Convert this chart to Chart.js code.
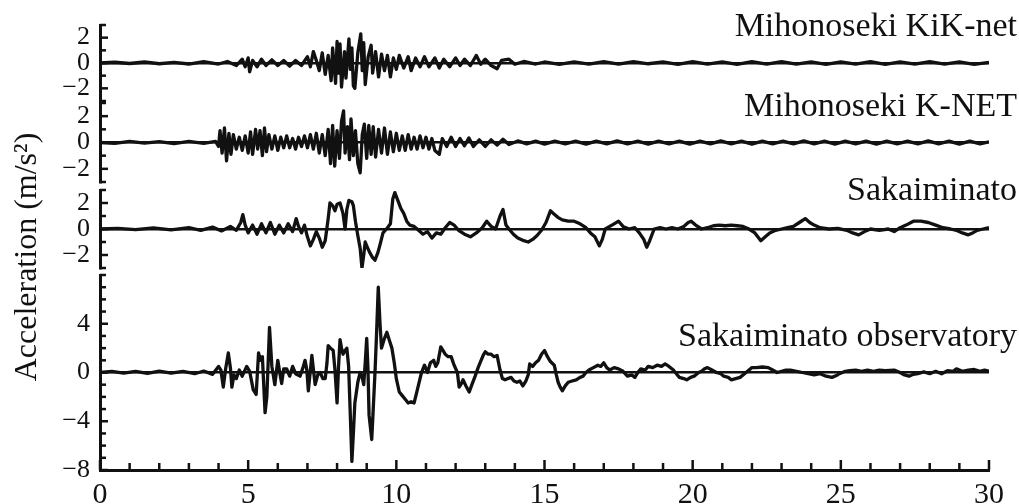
<!DOCTYPE html>
<html>
<head>
<meta charset="utf-8">
<script src="https://cdn.jsdelivr.net/npm/chart.js@4.4.1/dist/chart.umd.min.js"></script>
<style>
  body { margin: 0; background: #fff; }
  #wrap { position: relative; width: 1019px; height: 504px; overflow: hidden; }
  #wrap canvas { position: absolute; left: 0; top: 0; }
</style>
</head>
<body>
<div id="wrap">
  <canvas id="p1" width="1019" height="504"></canvas>
  <canvas id="p2" width="1019" height="504"></canvas>
  <canvas id="p3" width="1019" height="504"></canvas>
  <canvas id="p4" width="1019" height="504"></canvas>
</div>
<script>
// station names, top to bottom
const stations = ["Mihonoseki KiK-net", "Mihonoseki K-NET", "Sakaiminato", "Sakaiminato observatory"];
const yLabel = "Acceleration (m/s\u00b2)";
const timeTicks = [0, 5, 10, 15, 20, 25, 30];
const smallTickLabels = [-2, 0, 2];
const bigTickLabels = [-8, -4, 0, 4];

// [time s, acceleration m/s2]
const kikNet = [
  [0,0],[0.5,0.06],[1.0,-0.04],[1.5,0.08],[2.0,-0.06],[2.5,0.05],[3.0,-0.08],[3.5,0.1],[4.0,-0.08],[4.3,0.12],
  [4.6,-0.2],[4.8,0.3],[4.9,-0.3],[5.0,0.4],[5.05,-0.7],[5.15,0.2],[5.3,-0.3],[5.45,0.3],[5.6,-0.2],[5.8,0.25],
  [6.0,-0.2],[6.2,0.2],[6.4,-0.25],[6.6,0.2],[6.8,-0.2],[7.0,0.5],[7.1,-0.3],[7.2,0.9],[7.3,0.2],[7.4,-0.6],
  [7.5,0.8],[7.6,-0.9],[7.7,0.6],[7.8,-1.4],[7.85,1.2],[7.95,-1.6],[8.0,1.7],[8.05,-0.8],[8.1,1.5],[8.15,-1.9],
  [8.25,0.9],[8.3,-1.2],[8.4,1.9],[8.45,-0.5],[8.5,1.2],[8.55,-1.8],[8.6,-2.0],[8.7,0.8],[8.8,2.3],[8.85,-0.6],
  [8.9,1.6],[8.95,-1.7],[9.05,0.5],[9.15,1.4],[9.2,-0.8],[9.3,0.9],[9.4,-1.1],[9.5,0.7],[9.6,-0.6],[9.7,0.6],
  [9.8,-1.1],[9.9,0.4],[10.0,-0.5],[10.1,0.6],[10.25,-0.4],[10.4,0.5],[10.5,-0.6],[10.65,0.4],[10.8,-0.3],[10.95,0.5],
  [11.1,-0.3],[11.3,0.4],[11.45,-0.4],[11.6,0.3],[11.8,-0.3],[12.0,0.4],[12.15,-0.2],[12.3,0.3],[12.5,-0.2],[12.7,0.6],
  [12.85,-0.1],[13.0,0.3],[13.2,-0.2],[13.4,-0.45],[13.55,0.2],[13.8,0.3],[14.0,-0.1],[14.3,0.12],[14.7,-0.08],[15.0,0.08],
  [15.5,-0.1],[16.0,0.08],[16.5,-0.08],[17.0,0.1],[17.5,-0.08],[18.0,0.1],[18.5,-0.06],[19.0,0.08],[19.5,-0.1],[20.0,0.1],
  [20.5,-0.08],[21.0,0.08],[21.5,-0.1],[22.0,0.1],[22.5,-0.08],[23.0,0.1],[23.5,-0.08],[24.0,0.08],[24.5,-0.1],[25.0,0.08],
  [25.5,-0.08],[26.0,0.1],[26.5,-0.1],[27.0,0.08],[27.5,-0.08],[28.0,0.1],[28.5,-0.08],[29.0,0.08],[29.5,-0.1],[30.0,0.05]
];

const kNet = [
  [0,0],[0.5,-0.06],[1.0,0.08],[1.5,-0.05],[2.0,0.06],[2.5,-0.08],[3.0,0.08],[3.5,-0.06],[3.9,0.08],[4.0,-0.3],
  [4.05,0.9],[4.12,-0.8],[4.2,1.1],[4.27,-1.4],[4.35,0.7],[4.42,-0.9],[4.5,0.6],[4.6,-0.5],[4.7,0.4],[4.8,-0.6],
  [4.9,0.5],[5.0,-0.8],[5.08,0.8],[5.15,-0.9],[5.25,1.0],[5.32,-0.5],[5.4,0.9],[5.48,-1.0],[5.55,1.1],[5.62,-0.7],
  [5.7,0.6],[5.8,-0.5],[5.9,0.5],[6.0,-0.6],[6.1,0.4],[6.2,-0.4],[6.3,0.5],[6.4,-0.4],[6.5,0.3],[6.6,-0.5],
  [6.7,0.4],[6.8,-0.3],[6.9,0.5],[7.0,-0.4],[7.1,0.6],[7.2,-0.5],[7.3,0.7],[7.4,-0.8],[7.5,0.6],[7.6,-1.0],
  [7.7,1.0],[7.78,-1.6],[7.85,1.3],[7.92,-1.8],[8.0,0.9],[8.08,-1.2],[8.15,1.6],[8.22,2.4],[8.27,-0.8],[8.35,1.2],
  [8.42,-1.3],[8.47,1.8],[8.55,-1.0],[8.62,0.9],[8.7,-1.6],[8.78,-2.3],[8.85,0.6],[8.92,1.4],[9.0,-1.2],[9.07,1.3],
  [9.15,-0.9],[9.22,1.2],[9.3,-1.1],[9.4,1.0],[9.5,-0.8],[9.6,1.1],[9.7,-0.9],[9.8,0.8],[9.9,-0.7],[10.0,0.7],
  [10.1,-0.6],[10.2,0.5],[10.3,-0.6],[10.4,0.6],[10.5,-0.5],[10.6,0.4],[10.7,-0.5],[10.8,0.5],[10.9,-0.4],[11.0,0.4],
  [11.1,-0.5],[11.2,0.3],[11.3,-0.6],[11.45,-0.9],[11.55,0.3],[11.7,-0.3],[11.85,0.4],[12.0,-0.3],[12.15,0.3],[12.3,-0.25],
  [12.45,0.35],[12.6,-0.3],[12.8,0.2],[13.0,-0.3],[13.2,0.2],[13.4,-0.2],[13.6,0.25],[13.8,-0.15],[14.1,0.12],[14.4,-0.1],
  [14.7,0.1],[15.0,-0.12],[15.35,0.1],[15.7,-0.1],[16.05,0.1],[16.4,-0.12],[16.75,0.1],[17.1,-0.1],[17.45,0.12],[17.8,-0.1],
  [18.15,0.1],[18.5,-0.12],[18.85,0.1],[19.2,-0.1],[19.55,0.1],[19.9,-0.12],[20.25,0.1],[20.6,-0.1],[20.95,0.12],[21.3,-0.1],
  [21.65,0.1],[22.0,-0.12],[22.35,0.1],[22.7,-0.1],[23.05,0.1],[23.4,-0.1],[23.75,0.12],[24.1,-0.1],[24.45,0.1],[24.8,-0.12],
  [25.15,0.1],[25.5,-0.1],[25.85,0.1],[26.2,-0.12],[26.55,0.1],[26.9,-0.1],[27.25,0.1],[27.6,-0.1],[27.95,0.12],[28.3,-0.1],
  [28.65,0.1],[29.0,-0.12],[29.35,0.1],[29.7,-0.1],[30.0,0.05]
];

const sakai = [
  [0,0],[0.6,0.05],[1.2,-0.05],[1.8,0.08],[2.4,-0.06],[3.0,0.1],[3.4,-0.1],[3.8,0.15],[4.1,-0.15],[4.4,0.2],
  [4.6,-0.1],[4.75,0.5],[4.82,1.1],[4.9,0.3],[5.0,-0.3],[5.15,0.3],[5.3,-0.4],[5.45,0.4],[5.6,-0.3],[5.75,0.5],
  [5.9,-0.4],[6.05,0.3],[6.2,-0.3],[6.35,0.4],[6.5,-0.2],[6.62,0.8],[6.7,0.2],[6.8,-0.3],[6.9,0.3],[7.0,-0.6],
  [7.1,-1.3],[7.2,-0.8],[7.3,-0.2],[7.4,-0.7],[7.5,-1.4],[7.6,-0.9],[7.7,0.8],[7.76,2.0],[7.85,1.8],[7.93,1.4],
  [8.0,1.9],[8.1,2.0],[8.2,1.2],[8.27,0.0],[8.33,1.5],[8.4,2.2],[8.5,2.1],[8.55,1.8],[8.62,0.6],[8.7,-0.5],
  [8.78,-1.5],[8.84,-3.0],[8.9,-2.0],[8.95,-1.0],[9.02,-1.4],[9.1,-1.8],[9.2,-2.2],[9.28,-2.4],[9.38,-1.8],[9.45,-1.2],
  [9.55,-0.3],[9.7,0.1],[9.8,0.4],[9.88,2.3],[9.95,2.8],[10.05,2.2],[10.15,1.6],[10.25,1.2],[10.35,0.6],[10.45,0.3],
  [10.6,0.2],[10.75,-0.1],[10.9,-0.4],[11.05,-0.2],[11.2,-0.7],[11.35,-0.3],[11.5,-0.4],[11.65,0.1],[11.8,0.5],[11.95,0.3],
  [12.1,-0.1],[12.3,-0.4],[12.5,-0.6],[12.7,-0.3],[12.9,0.1],[13.05,0.6],[13.2,0.2],[13.35,0.0],[13.5,1.0],[13.6,1.5],
  [13.7,0.3],[13.8,0.0],[13.95,-0.4],[14.1,-0.7],[14.3,-0.9],[14.45,-1.0],[14.6,-0.8],[14.75,-0.5],[14.9,-0.1],[15.05,0.5],
  [15.2,1.4],[15.3,1.2],[15.45,0.9],[15.6,0.7],[15.8,0.6],[16.0,0.6],[16.2,0.4],[16.4,0.1],[16.55,-0.3],[16.7,-0.6],
  [16.85,-1.3],[16.95,-0.8],[17.05,0.0],[17.2,0.2],[17.35,0.4],[17.5,0.6],[17.65,0.2],[17.85,0.0],[18.05,0.1],[18.2,-0.3],
  [18.35,-0.8],[18.45,-1.4],[18.55,-0.9],[18.7,0.0],[18.9,0.1],[19.1,0.0],[19.3,0.1],[19.5,0.0],[19.7,0.2],[19.85,0.5],
  [19.95,0.6],[20.1,0.3],[20.3,0.0],[20.5,0.1],[20.7,0.25],[20.9,0.3],[21.1,0.25],[21.3,0.3],[21.5,0.25],[21.7,0.2],
  [21.9,0.0],[22.1,-0.3],[22.3,-0.9],[22.45,-0.6],[22.6,-0.3],[22.8,-0.1],[23.0,0.0],[23.2,0.1],[23.4,0.2],[23.6,0.5],
  [23.8,0.8],[23.95,0.5],[24.1,0.3],[24.3,0.1],[24.6,0.0],[24.9,0.05],[25.2,-0.1],[25.4,-0.3],[25.6,-0.45],[25.8,-0.2],
  [26.0,0.0],[26.3,-0.1],[26.6,0.0],[26.8,-0.2],[27.0,0.1],[27.2,0.3],[27.45,0.6],[27.7,0.6],[27.95,0.5],[28.2,0.3],
  [28.45,0.1],[28.7,0.0],[28.9,-0.1],[29.1,-0.3],[29.3,-0.45],[29.45,-0.3],[29.6,-0.1],[29.8,0.0],[30,0.1]
];

const observatory = [
  [0,0],[0.4,0.1],[0.8,-0.05],[1.2,0.1],[1.6,-0.08],[2.0,0.12],[2.4,-0.06],[2.8,0.1],[3.2,-0.1],[3.5,0.12],
  [3.8,-0.15],[4.0,0.5],[4.08,0.2],[4.16,-1.2],[4.24,0.3],[4.33,1.6],[4.4,0.4],[4.45,-1.2],[4.52,-0.2],[4.6,-0.5],
  [4.7,0.2],[4.8,-0.3],[4.95,0.5],[5.05,0.1],[5.17,-1.4],[5.27,-1.8],[5.35,1.6],[5.42,1.0],[5.48,1.3],[5.57,-3.3],
  [5.63,-2.0],[5.72,3.7],[5.8,0.5],[5.9,-1.0],[6.0,1.0],[6.08,-0.2],[6.13,-0.9],[6.2,0.3],[6.3,0.3],[6.4,-0.3],
  [6.5,0.5],[6.6,-0.1],[6.75,-0.3],[6.85,0.4],[6.92,1.0],[6.98,0.2],[7.03,-1.5],[7.1,0.2],[7.15,1.4],[7.2,0.3],
  [7.26,-1.0],[7.35,-0.2],[7.43,0.0],[7.52,-0.5],[7.6,-0.5],[7.66,0.8],[7.7,2.2],[7.78,2.0],[7.87,1.8],[7.93,0.2],
  [8.0,-2.5],[8.05,0.5],[8.1,2.7],[8.15,2.0],[8.2,1.5],[8.27,1.8],[8.33,2.0],[8.39,0.5],[8.44,-3.0],[8.5,-7.3],
  [8.55,-5.0],[8.6,-2.5],[8.7,-0.8],[8.78,0.0],[8.84,-0.3],[8.9,-1.0],[8.95,0.8],[9.0,2.8],[9.04,0.5],[9.08,-3.5],
  [9.17,-5.5],[9.22,-3.0],[9.28,0.0],[9.33,3.0],[9.39,7.0],[9.45,4.0],[9.5,2.0],[9.6,2.8],[9.68,3.3],[9.77,2.6],
  [9.85,2.0],[9.93,0.8],[10.0,-0.5],[10.1,-1.6],[10.2,-1.9],[10.3,-2.2],[10.4,-2.5],[10.5,-2.4],[10.6,-2.5],[10.7,-1.5],
  [10.85,0.0],[10.95,0.6],[11.05,0.0],[11.15,0.8],[11.26,1.0],[11.33,0.5],[11.4,0.8],[11.5,2.1],[11.58,1.8],[11.65,1.5],
  [11.75,1.3],[11.85,1.3],[11.95,0.6],[12.06,0.0],[12.12,-1.2],[12.2,-0.9],[12.25,-0.6],[12.35,-1.1],[12.46,-1.6],[12.55,-1.0],
  [12.66,-0.3],[12.76,0.4],[12.86,1.0],[12.93,1.4],[13.0,1.7],[13.1,1.5],[13.2,1.5],[13.3,1.3],[13.4,1.4],[13.5,0.2],
  [13.58,-0.5],[13.67,-0.6],[13.77,-0.5],[13.87,-0.4],[13.97,-0.7],[14.07,-0.8],[14.17,-0.7],[14.27,-1.1],[14.37,-0.7],[14.45,-0.2],
  [14.5,0.7],[14.6,0.5],[14.7,0.8],[14.8,1.0],[14.9,1.5],[15.0,1.8],[15.1,1.3],[15.2,0.9],[15.33,0.6],[15.4,-0.2],
  [15.46,-0.8],[15.53,-1.2],[15.6,-1.5],[15.7,-1.1],[15.8,-0.8],[15.93,-0.7],[16.07,-0.6],[16.2,-0.4],[16.3,-0.3],[16.4,0.0],
  [16.5,0.2],[16.65,0.4],[16.8,0.6],[16.9,0.5],[17.0,0.8],[17.1,0.4],[17.2,0.2],[17.35,0.4],[17.5,0.3],[17.65,0.1],
  [17.8,-0.3],[17.95,-0.2],[18.05,-0.4],[18.15,0.0],[18.25,0.3],[18.4,0.2],[18.5,0.5],[18.65,0.4],[18.8,0.6],[18.95,0.5],
  [19.07,0.7],[19.2,0.5],[19.35,0.2],[19.45,-0.1],[19.55,-0.4],[19.7,-0.5],[19.8,-0.6],[19.93,-0.4],[20.05,-0.3],[20.2,0.0],
  [20.3,0.1],[20.4,0.3],[20.5,0.4],[20.65,0.2],[20.8,0.0],[20.95,-0.1],[21.05,-0.3],[21.2,-0.4],[21.3,-0.6],[21.45,-0.5],
  [21.6,-0.4],[21.75,-0.1],[21.9,0.2],[22.0,0.4],[22.15,0.4],[22.35,0.45],[22.55,0.4],[22.7,0.2],[22.85,0.0],[23.0,0.1],
  [23.15,0.2],[23.3,0.2],[23.5,0.1],[23.7,0.0],[23.9,-0.1],[24.1,-0.2],[24.3,-0.1],[24.5,-0.3],[24.7,-0.4],[24.85,-0.25],
  [24.95,-0.1],[25.15,0.1],[25.3,0.15],[25.5,0.2],[25.7,0.1],[25.9,0.2],[26.1,0.1],[26.3,0.2],[26.5,0.15],[26.8,0.2],
  [27.0,0.0],[27.15,-0.2],[27.3,-0.3],[27.45,-0.15],[27.6,-0.1],[27.8,0.05],[28.0,-0.1],[28.2,0.1],[28.4,-0.1],[28.6,0.15],
  [28.8,0.1],[28.9,0.3],[29.1,0.1],[29.3,0.2],[29.5,0.25],[29.7,0.1],[29.85,0.2],[30.0,0.1]
];

const ink = "#111";
const serif = "'Liberation Serif', 'Times New Roman', serif";
Chart.defaults.font.family = serif;
Chart.defaults.color = ink;

function minusSign(v) {
  return v < 0 ? "\u2212" + Math.abs(v) : String(v);
}

// ticks drawn inside the frame, like the original figure
const innerTicks = {
  id: "innerTicks",
  afterDraw(chart) {
    const ctx = chart.ctx;
    const area = chart.chartArea;
    ctx.save();
    ctx.strokeStyle = ink;
    ctx.lineWidth = 2.5;
    const y = chart.scales.y;
    y.ticks.forEach((t) => {
      const py = y.getPixelForValue(t.value);
      const len = t.label !== "" ? 8 : 6;
      ctx.beginPath();
      ctx.moveTo(area.left, py);
      ctx.lineTo(area.left + len, py);
      ctx.stroke();
    });
    const x = chart.scales.x;
    if (x.options.display) {
      x.ticks.forEach((t) => {
        const px = x.getPixelForValue(t.value);
        const len = t.label !== "" ? 10 : 7;
        ctx.beginPath();
        ctx.moveTo(px, area.bottom);
        ctx.lineTo(px, area.bottom - len);
        ctx.stroke();
      });
    }
    ctx.restore();
  },
};

const panelText = {
  id: "panelText",
  afterDraw(chart, args, opts) {
    const ctx = chart.ctx;
    ctx.save();
    ctx.fillStyle = ink;
    ctx.font = "34px " + serif;
    ctx.textAlign = "right";
    ctx.textBaseline = "alphabetic";
    ctx.fillText(opts.text, 1017, opts.baseline);
    if (opts.axisTitle) {
      ctx.translate(28, 257);
      ctx.rotate(-Math.PI / 2);
      ctx.textAlign = "center";
      ctx.textBaseline = "middle";
      ctx.font = "32px " + serif;
      ctx.fillText(opts.axisTitle, 0, 0);
    }
    ctx.restore();
  },
};

function makePanel(id, points, cfg) {
  return new Chart(document.getElementById(id), {
    type: "line",
    data: {
      datasets: [
        {
          data: points.map((p) => ({ x: p[0], y: p[1] })),
          borderColor: ink,
          borderWidth: 3.3,
          borderJoinStyle: "round",
          pointRadius: 0,
          tension: 0,
          fill: false,
        },
      ],
    },
    options: {
      responsive: false,
      animation: false,
      events: [],
      layout: { padding: { top: cfg.top, bottom: cfg.bottom, left: 0, right: 30 } },
      plugins: {
        legend: { display: false },
        tooltip: { enabled: false },
        panelText: { text: cfg.title, baseline: cfg.baseline, axisTitle: cfg.axisTitle },
      },
      scales: {
        x: {
          type: "linear",
          min: 0,
          max: 30,
          display: cfg.showX,
          grid: { display: false, drawTicks: false },
          border: { color: ink, width: 3 },
          ticks: {
            stepSize: 1,
            autoSkip: false,
            maxRotation: 0,
            padding: 7,
            font: { size: 30 },
            callback: (v) => (timeTicks.includes(v) ? String(v) : ""),
          },
          afterFit: (s) => {
            if (cfg.showX) s.height = 34;
          },
        },
        y: {
          min: cfg.min,
          max: cfg.max,
          grid: {
            drawTicks: false,
            lineWidth: 2.5,
            color: (c) => (c.tick && c.tick.value === 0 ? ink : "rgba(0,0,0,0)"),
          },
          border: { color: ink, width: 3 },
          ticks: {
            stepSize: 1,
            autoSkip: false,
            padding: 10,
            font: { size: 26 },
            callback: (v) => (cfg.labels.includes(v) ? minusSign(v) : ""),
          },
          afterFit: (s) => {
            s.width = 100;
            s.paddingTop = 0;
            s.paddingBottom = 0;
          },
        },
      },
    },
    plugins: [innerTicks, panelText],
  });
}

makePanel("p1", kikNet, { top: 25, bottom: 403, min: -3, max: 3, labels: smallTickLabels, showX: false, title: stations[0], baseline: 36 });
makePanel("p2", kNet, { top: 103, bottom: 322, min: -3, max: 3, labels: smallTickLabels, showX: false, title: stations[1], baseline: 116 });
makePanel("p3", sakai, { top: 190, bottom: 236, min: -3, max: 3, labels: smallTickLabels, showX: false, title: stations[2], baseline: 200 });
makePanel("p4", observatory, { top: 275, bottom: 0, min: -8, max: 8, labels: bigTickLabels, showX: true, title: stations[3], baseline: 346, axisTitle: yLabel });
</script>
</body>
</html>
